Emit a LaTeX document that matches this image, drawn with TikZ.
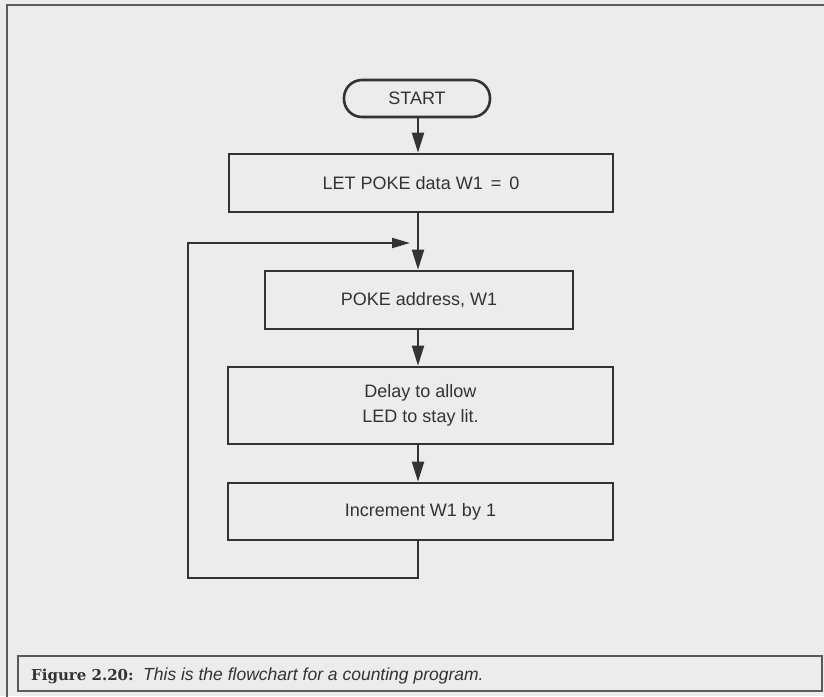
\documentclass[tikz,border=0pt]{standalone}
\usepackage{fontspec}
\setmainfont{Liberation Sans}
\newfontfamily\capfont{DejaVu Serif}
\usetikzlibrary{arrows.meta}
\definecolor{paper}{HTML}{ECECEC}
\definecolor{ink}{HTML}{333333}
\definecolor{framegray}{HTML}{5A5A5A}
\begin{document}
\begin{tikzpicture}[x=1pt,y=-1pt,
  every node/.style={inner sep=0pt,text=ink},
  flowbox/.style={draw=ink,line width=2.6pt,fill=paper,font=\fontsize{18}{25}\selectfont,align=center},
  termbox/.style={flowbox,rounded corners=18pt},
  conn/.style={draw=ink,line width=2pt},
  arr/.style={conn,-{Triangle[length=20pt,width=12pt]}},
  harr/.style={conn,-{Triangle[length=18pt,width=10pt]}}]
  % page and frames
  \useasboundingbox (0,0) rectangle (824,696);
  \fill[paper] (0,0) rectangle (824,696);
  \draw[framegray,line width=2pt] (7,710) -- (7,5) -- (840,5);
  \draw[framegray,line width=2.6pt] (18,656) rectangle (822,691);
  % flowchart boxes
  \node[termbox,minimum width=146pt,minimum height=37pt] (start) at (417,98.5) {START};
  \node[flowbox,minimum width=384pt,minimum height=58pt] (init) at (421,183) {LET POKE data W1 \,=\, 0};
  \node[flowbox,minimum width=308pt,minimum height=58pt] (poke) at (419,300) {POKE address, W1};
  \node[flowbox,minimum width=385pt,minimum height=77pt] (delay) at (420.5,405.5) {Delay to allow\\LED to stay lit.};
  \node[flowbox,minimum width=385pt,minimum height=57pt] (incr) at (420.5,511.5) {Increment W1 by 1};
  % connector spine and loop corners
  \coordinate (sp) at (418,0);
  \coordinate (loopbot) at (418,578);
  \coordinate (loopbl) at (188,578);
  \coordinate (looptl) at (188,243);
  \coordinate (loopend) at (410,243);
  \draw[arr] (sp |- start.south) -- (sp |- init.north);
  \draw[arr] (sp |- init.south) -- (sp |- poke.north);
  \draw[arr] (sp |- poke.south) -- (sp |- delay.north);
  \draw[arr] (sp |- delay.south) -- (sp |- incr.north);
  \draw[harr] (sp |- incr.south) -- (loopbot) -- (loopbl) -- (looptl) -- (loopend);
  % caption
  \node[anchor=base west,font=\capfont\bfseries\fontsize{15}{18}\selectfont] (capnum) at (31,680) {Figure 2.20:};
  \node[anchor=base west,font=\itshape\fontsize{17.5}{20}\selectfont] (captext) at (143,680) {This is the flowchart for a counting program.};
\end{tikzpicture}
\end{document}
